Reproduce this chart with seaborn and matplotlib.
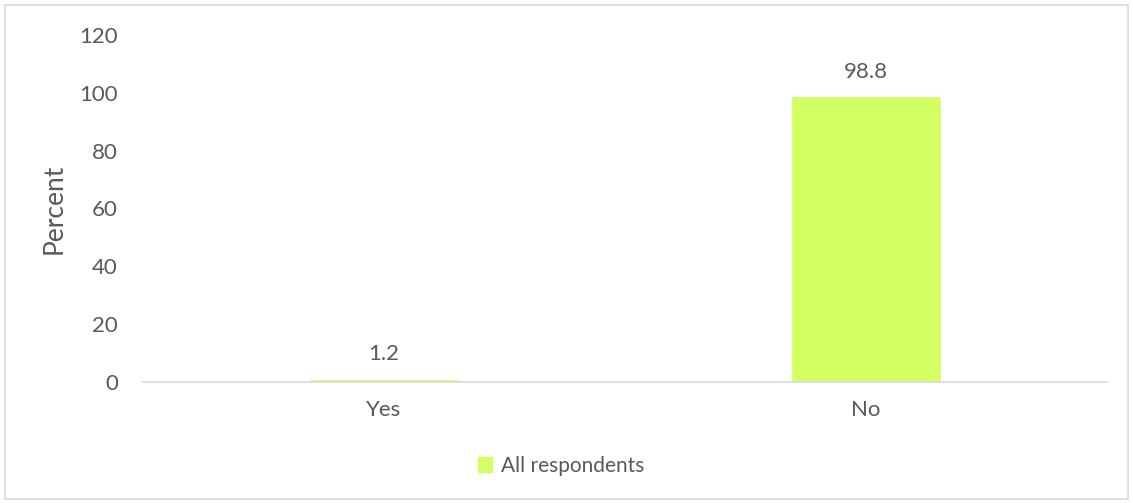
import pandas as pd
import matplotlib.pyplot as plt
import seaborn as sns
from matplotlib.patches import Rectangle, Patch

# data
categories = ["Yes", "No"]
values = [1.2, 98.8]
series_name = "All respondents"

sns.set_style("white")
plt.rcParams['font.family'] = ['Lato', 'DejaVu Sans']

BAR_COLOR = "#d2ff62"
TEXT_COLOR = "#595959"

df = pd.DataFrame({"answer": categories, "percent": values})

fig = plt.figure(figsize=(11.33, 5.03), dpi=100)
ax = fig.add_axes([143 / 1133, 1 - 382 / 503, (1107 - 143) / 1133, (382 - 35) / 503])

sns.barplot(data=df, x="answer", y="percent", color=BAR_COLOR, width=0.313,
            saturation=1, ax=ax)

# value labels above bars
for p, v in zip(ax.patches, values):
    ax.text(p.get_x() + p.get_width() / 2, p.get_height() + 5, f"{v:.1f}",
            ha="center", va="bottom", fontsize=16, color=TEXT_COLOR)

ax.set_ylim(0, 120)
ax.set_yticks(range(0, 121, 20))
ax.set_xlabel("")
ax.set_ylabel("Percent", fontsize=19, color=TEXT_COLOR)
ax.yaxis.set_label_coords(-0.079, 0.5)
ax.tick_params(axis="both", length=0, labelsize=16, labelcolor=TEXT_COLOR)
ax.tick_params(axis="y", pad=18)
ax.tick_params(axis="x", pad=13)

for s in ["top", "right", "left"]:
    ax.spines[s].set_visible(False)
ax.spines["bottom"].set_color("#d9d9d9")
ax.spines["bottom"].set_linewidth(1.2)

fig.legend(handles=[Patch(color=BAR_COLOR, label=series_name)],
           loc="center", bbox_to_anchor=(561 / 1133, 1 - 466 / 503),
           frameon=False, fontsize=15, labelcolor=TEXT_COLOR,
           handlelength=0.7, handleheight=0.7, handletextpad=0.4)

# outer chart border
fig.patches.append(Rectangle((5 / 1133, 4 / 503), 1 - 10 / 1133, 1 - 9 / 503,
                             transform=fig.transFigure, fill=False,
                             edgecolor="#d9d9d9", linewidth=1.2))

fig.savefig("out.png", dpi=100)
plt.close(fig)
